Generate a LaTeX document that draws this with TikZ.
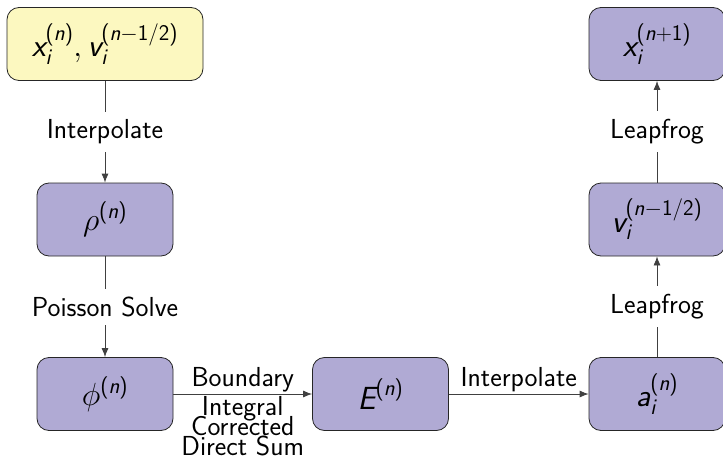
\RequirePackage{fix-cm}
\documentclass[tikz,border=0pt]{standalone}
\usepackage{amsmath}
\usetikzlibrary{arrows.meta}
\definecolor{boxpurple}{RGB}{176,170,212}
\definecolor{boxyellow}{RGB}{252,248,192}
\newcommand{\sv}[1]{\textsf{\itshape #1}}
\newcommand{\su}[1]{\textsf{\upshape #1}}
\newcommand{\supn}[1]{^{\su{(}#1\su{)}}}
\newcommand{\tightlines}{\lineskiplimit=-100pt\relax}
\begin{document}
\begin{tikzpicture}[x=1pt,y=-1pt,
  font=\fontsize{27.5}{19.8}\selectfont\sffamily,
  box/.style={draw=black!85, line width=0.8pt, rounded corners=12pt, fill=boxpurple,
    minimum width=136pt, minimum height=73pt, inner sep=0pt,
    font=\fontsize{32}{38}\selectfont\sffamily},
  startbox/.style={box, fill=boxyellow, minimum width=196pt},
  conn/.style={draw=black!75, line width=0.8pt, -{Latex[length=9pt,width=7pt]}},
  lbl/.style={fill=white, inner sep=8pt},
  hlbl/.style={inner sep=1.5pt}]
\useasboundingbox (0,0) rectangle (723,460);
\node[startbox] (xv) at (105,44) {$\sv{x}_{\sv{i}}\supn{\sv{n}},\sv{v}_{\sv{i}}\supn{\sv{n}-\su{1/2}}$};
\node[box] (rho) at (105,219.5) {$\rho\supn{\sv{n}}$};
\node[box] (phi) at (105,394) {$\phi\supn{\sv{n}}$};
\node[box] (E) at (380.5,394) {$\sv{E}\supn{\sv{n}}$};
\node[box] (a) at (657,394) {$\sv{a}_{\sv{i}}\supn{\sv{n}}$};
\node[box] (v) at (657,219.5) {$\sv{v}_{\sv{i}}\supn{\sv{n}-\su{1/2}}$};
\node[box] (xn) at (657,44) {$\sv{x}_{\sv{i}}\supn{\sv{n}+\su{1}}$};
\draw[conn] (xv) -- node[lbl] {Interpolate} (rho);
\draw[conn] (rho) -- node[lbl] {Poisson Solve} (phi);
\draw[conn] (phi) -- node[hlbl, above] {Boundary}
  node[below, inner sep=2pt, align=center, execute at begin node=\tightlines] {Integral\\Corrected\\Direct Sum} (E);
\draw[conn] (E) -- node[hlbl, above] {Interpolate} (a);
\draw[conn] (a) -- node[lbl] {Leapfrog} (v);
\draw[conn] (v) -- node[lbl] {Leapfrog} (xn);
\end{tikzpicture}
\end{document}
